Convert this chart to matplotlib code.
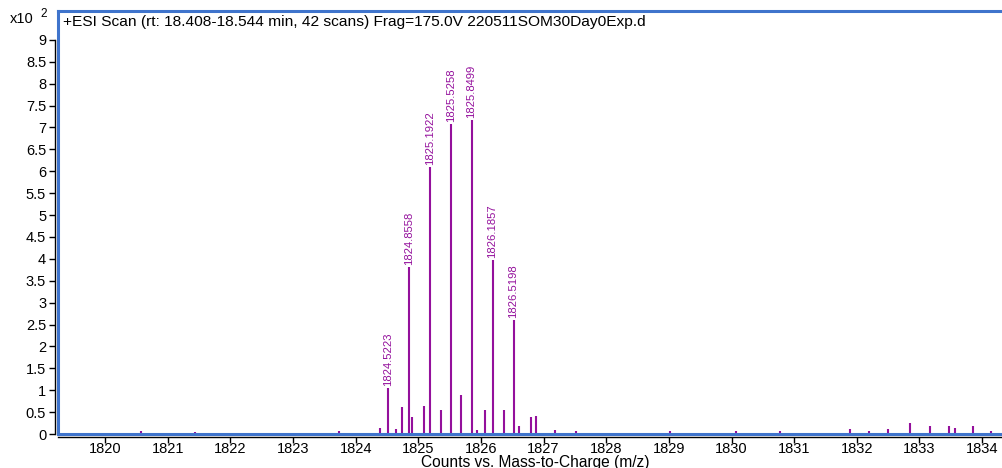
import matplotlib
matplotlib.use("Agg")
import matplotlib.pyplot as plt
from matplotlib import font_manager
from matplotlib.ticker import FuncFormatter

plt.rcParams['font.family'] = ['Liberation Sans', 'DejaVu Sans']

# labelled peaks (m/z, counts x10^2)
mz_main = [1824.5223, 1824.8558, 1825.1922, 1825.5258, 1825.8499, 1826.1857, 1826.5198]
int_main = [1.06, 3.82, 6.09, 7.08, 7.17, 3.97, 2.61]

# unlabelled small peaks
mz_small = [1820.58, 1821.43, 1823.73, 1824.39, 1824.64, 1824.74, 1824.90, 1825.09,
            1825.37, 1825.68, 1825.94, 1826.07, 1826.37, 1826.60, 1826.80, 1826.88,
            1827.19, 1827.51, 1829.01, 1830.07, 1830.77, 1831.89, 1832.19, 1832.50,
            1832.85, 1833.17, 1833.47, 1833.56, 1833.86, 1834.14]
int_small = [0.07, 0.05, 0.07, 0.13, 0.12, 0.61, 0.38, 0.65,
             0.55, 0.90, 0.10, 0.54, 0.54, 0.18, 0.38, 0.40,
             0.10, 0.07, 0.07, 0.07, 0.07, 0.11, 0.06, 0.12,
             0.26, 0.19, 0.19, 0.13, 0.19, 0.07]

x_ticks = list(range(1820, 1835))
y_ticks = [i * 0.5 for i in range(19)]
title = "+ESI Scan (rt: 18.408-18.544 min, 42 scans) Frag=175.0V 220511SOM30Day0Exp.d"

W, H = 1002, 468
peak_col = '#94109c'
blue = '#3f74cc'

# the peak labels use a narrow face if one is around
names = {f.name for f in font_manager.fontManager.ttflist}
if 'Liberation Sans Narrow' in names:
    lab_font, lab_size = 'Liberation Sans Narrow', 9
else:
    lab_font, lab_size = 'Liberation Sans', 8.1

fig = plt.figure(figsize=(W / 100, H / 100), dpi=100)
ax = fig.add_axes([58 / W, 1 - 434 / H, (1002 - 58) / W, (434 - 11) / H])

ax.vlines(mz_small, 0, int_small, color=peak_col, lw=1.5)
ax.vlines(mz_main, 0, int_main, color=peak_col, lw=1.5)
for m, v in zip(mz_main, int_main):
    ax.annotate(f"{m:.4f}", (m, v), xytext=(0, 1.5), textcoords='offset points',
                rotation=90, ha='center', va='bottom', color=peak_col,
                fontsize=lab_size, family=lab_font)

ax.set_xlim(1819.249, 1834.317)
ax.set_ylim(0, 9.66)

# blue frame
ax.spines['right'].set_visible(False)
ax.spines['top'].set_color(blue)
ax.spines['top'].set_linewidth(2.2)
ax.plot([0, 0], [0, 1], transform=ax.transAxes, color=blue, lw=2.2, clip_on=False)
ax.plot([0, 1], [0, 0], transform=ax.transAxes, color=blue, lw=2.2, clip_on=False)

# black offset axes
for s in ['left', 'bottom']:
    ax.spines[s].set_color('black')
    ax.spines[s].set_linewidth(1)
    ax.spines[s].set_position(('outward', 2.5))
ax.spines['left'].set_bounds(0, 9)

ax.set_xticks(x_ticks)
ax.set_yticks(y_ticks)
ax.yaxis.set_major_formatter(FuncFormatter(lambda v, p: f"{v:g}"))
ax.tick_params(direction='out', length=4, width=1, labelsize=10.5)
ax.tick_params(axis='x', pad=-1)
ax.tick_params(axis='y', pad=2)

fig.text(10 / W, 1 - 19 / H, "x10", fontsize=10.5, va='center', ha='left')
fig.text(40 / W, 1 - 14 / H, "2", fontsize=8.5, va='center', ha='left')
fig.text(63 / W, 1 - 22 / H, title, fontsize=11.15, va='center', ha='left')
fig.text(535 / W, 1 - 462 / H, "Counts vs. Mass-to-Charge (m/z)", fontsize=11.2,
         va='center', ha='center')

fig.savefig("out.png", dpi=100)
